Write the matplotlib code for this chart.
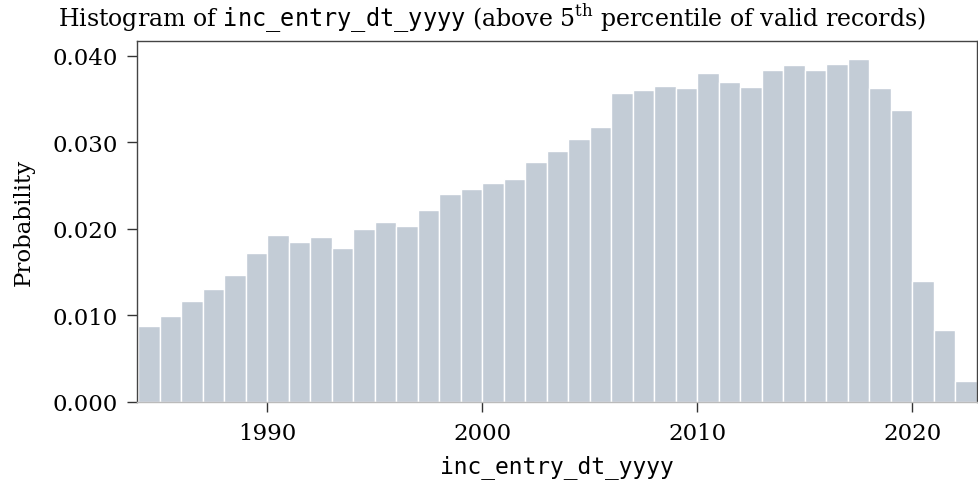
import matplotlib
matplotlib.use('Agg')
import matplotlib.pyplot as plt

# Histogram data (1-year bins, left edges)
years = list(range(1984, 2023))
probability = [
    0.00876, 0.00999, 0.01165, 0.01304, 0.01473, 0.01720, 0.01925, 0.01852,
    0.01913, 0.01778, 0.02002, 0.02075, 0.02033, 0.02214, 0.02407, 0.02457,
    0.02530, 0.02573, 0.02770, 0.02897, 0.03040, 0.03182, 0.03576, 0.03607,
    0.03649, 0.03626, 0.03807, 0.03699, 0.03637, 0.03838, 0.03900, 0.03838,
    0.03904, 0.03965, 0.03630, 0.03375, 0.01393, 0.00829, 0.00243,
]
x_ticks = [1990, 2000, 2010, 2020]
y_ticks = [0.000, 0.010, 0.020, 0.030, 0.040]

BAR_COLOR = '#c3ccd6'
FONT_SIZE = 16.5
TITLE_SIZE = 17

plt.rcParams['font.family'] = ['DejaVu Serif']
plt.rcParams['mathtext.fontset'] = 'custom'
plt.rcParams['mathtext.rm'] = 'DejaVu Serif'
plt.rcParams['mathtext.tt'] = 'DejaVu Sans Mono'

fig = plt.figure(figsize=(9.79, 4.85), dpi=100)
ax = fig.add_axes([0.1399, 0.1691, 0.858, 0.7443])

ax.bar(years, probability, width=1.0, align='edge', color=BAR_COLOR,
       edgecolor='white', linewidth=1.0)

ax.set_xlim(1983.95, 2023.0)
ax.set_ylim(0, 0.04173)
ax.set_xticks(x_ticks)
ax.set_xticklabels([str(t) for t in x_ticks])
ax.set_yticks(y_ticks)
ax.set_yticklabels([f'{t:.3f}' for t in y_ticks])
ax.tick_params(axis='both', labelsize=FONT_SIZE, length=7.5, width=1.0,
               color='#333333', direction='out')
ax.tick_params(axis='x', pad=7)
ax.tick_params(axis='y', pad=6)

for side in ['left', 'top', 'right']:
    ax.spines[side].set_color('#444444')
    ax.spines[side].set_linewidth(1.0)
ax.spines['bottom'].set_color('#bbbbbb')
ax.spines['bottom'].set_linewidth(1.0)

ax.set_ylabel('Probability', fontsize=FONT_SIZE)
ax.yaxis.set_label_coords(-0.122, 0.5)
ax.set_xlabel('inc_entry_dt_yyyy', fontsize=FONT_SIZE, family='DejaVu Sans Mono')
ax.xaxis.set_label_coords(0.5, -0.145)

fig.text(492 / 979, 1 - 28 / 485,
         r'Histogram of $\mathtt{inc\_entry\_dt\_yyyy}$ (above 5$^{\mathrm{th}}$ '
         r'percentile of valid records)',
         fontsize=TITLE_SIZE, ha='center', va='baseline')

fig.savefig('out.png', dpi=100)
